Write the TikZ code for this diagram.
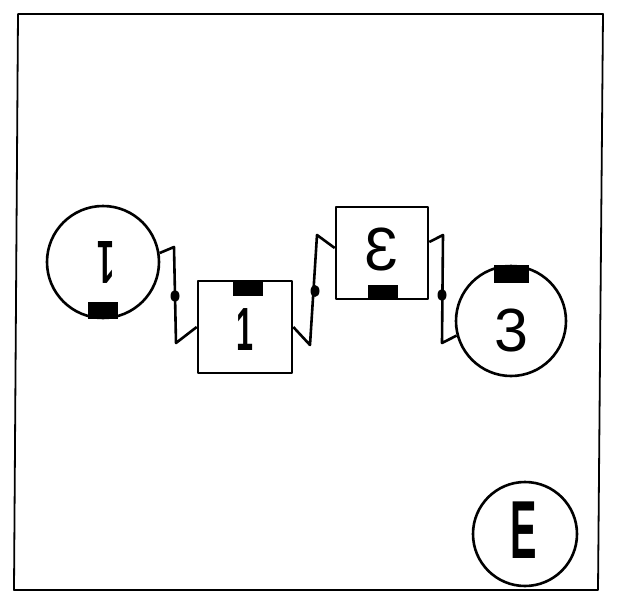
\documentclass[tikz,border=0pt]{standalone}
\usepackage{fontspec}
\setmainfont{Liberation Sans}
\begin{document}
\begin{tikzpicture}[x=1pt,y=-1pt, line width=2.6pt, line join=round,
  ring/.style={draw, circle, minimum size=112pt, inner sep=0pt},
  tile/.style={draw, rectangle, minimum width=93pt, minimum height=92pt, inner sep=0pt},
  lbl/.style={font=\fontsize{61}{61}\selectfont, inner sep=0pt},
  biglbl/.style={inner sep=0pt},
  wire/.style={line width=2.6pt},
  blob/.style={fill=black},
  framebox/.style={line width=1.8pt}]
\useasboundingbox (0,0) rectangle (619,592);
\fill[white] (0,0) rectangle (619,592);
\draw[framebox] (18,14) -- (603,14) -- (598,590) -- (14,590) -- cycle;

% shapes
\node[ring] (c1) at (103,262) {};
\node[tile, minimum width=94pt] (b1) at (245,327) {};
\node[tile, minimum width=92pt] (b2) at (382,253) {};
\node[ring, minimum size=110pt] (c3) at (511,321) {};
\node[ring, minimum size=104pt] (cE) at (525,534) {};

% labels
\node[lbl] (l1) at (106,262) {\rotatebox{180}{\scalebox{0.5}[1]{\bfseries 1}}};
\node[lbl] (l2) at (245,330) {\scalebox{0.5}[1]{\bfseries 1}};
\node[lbl] (l3) at (382,249) {\scalebox{-1}[1]{3}};
\node[lbl] (l4) at (511,330) {3};
\node[biglbl] (l5) at (524,530) {\scalebox{0.65}[1.35]{\fontsize{61}{61}\selectfont\bfseries E}};

% black blocks
\fill[blob] ([xshift=-15pt]c1.south) rectangle ([xshift=15pt,yshift=17pt]c1.south);
\fill[blob] ([xshift=-12pt]b1.north) rectangle ([xshift=18pt,yshift=-16pt]b1.north);
\fill[blob] ([xshift=-14pt]b2.south) rectangle ([xshift=16pt,yshift=15pt]b2.south);
\fill[blob] ([xshift=-17pt]c3.north) rectangle ([xshift=18pt,yshift=-18pt]c3.north);

% connectors
\coordinate (k1a) at (174,247);
\coordinate (k1b) at (176,343);
\coordinate (d1) at (175,296);
\draw[wire] (c1.9) -- (k1a) -- (k1b) -- (b1.west);
\fill (d1) ellipse (4.5 and 6);

\coordinate (k2a) at (310,345);
\coordinate (k2b) at (317,235);
\coordinate (d2) at (315,291);
\draw[wire] (b1.east) -- (k2a) -- (k2b) -- ([yshift=5pt]b2.west);
\fill (d2) ellipse (4.5 and 6);

\coordinate (k3a) at (443,235);
\coordinate (k3b) at (442,343);
\coordinate (d3) at (442,295);
\draw[wire] ([yshift=11pt]b2.east) -- (k3a) -- (k3b) -- (c3.195);
\fill (d3) ellipse (4.5 and 6);
\end{tikzpicture}
\end{document}
